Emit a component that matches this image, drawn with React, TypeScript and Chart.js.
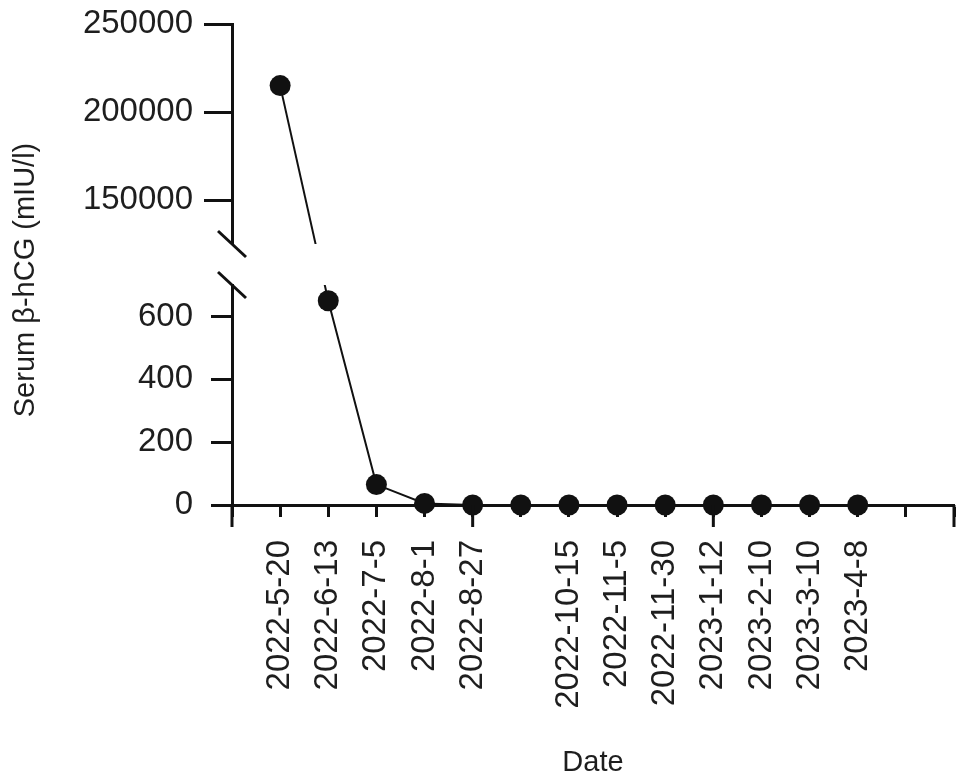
import React, { useEffect, useRef } from 'react';
import { Chart, registerables } from 'chart.js';

Chart.register(...registerables);

// ---- data ----
const dates = [
  '2022-5-20', '2022-6-13', '2022-7-5', '2022-8-1', '2022-8-27', '',
  '2022-10-15', '2022-11-5', '2022-11-30', '2023-1-12', '2023-2-10', '2023-3-10', '2023-4-8',
];
const hcgValues = [215000, 650, 65, 5, 0, 0, 0, 0, 0, 0, 0, 0, 0];
const topMin = 125000;
const topMax = 250000;
const bottomMin = 0;
const bottomMax = 700;
const topTicks = [150000, 200000, 250000];
const bottomTicks = [0, 200, 400, 600];
const yTitle = 'Serum β-hCG (mIU/l)';
const xTitle = 'Date';
const axisSlots = dates.length + 2;

const INK = '#111111';
const TEXT = '#1e1e1e';
const FAMILY = '"Liberation Sans", Arial, Helvetica, sans-serif';

const topPoints = hcgValues
  .map((v, i) => ({ x: i + 1, y: v }))
  .filter((p) => p.y > bottomMax);
const bottomPoints = hcgValues
  .map((v, i) => ({ x: i + 1, y: v }))
  .filter((p) => p.y <= bottomMax);

const noPad = (s: any) => {
  s.paddingTop = 0;
  s.paddingBottom = 0;
  s.paddingLeft = 0;
  s.paddingRight = 0;
};

const brokenAxisPlugin = {
  id: 'brokenAxis',
  beforeDatasetsDraw(chart: any) {
    const { ctx } = chart;
    const x = chart.scales.x;
    const yT = chart.scales.yTop;
    const yB = chart.scales.yBot;
    ctx.save();
    ctx.strokeStyle = INK;
    ctx.lineWidth = 2;
    for (let i = 0; i < hcgValues.length - 1; i++) {
      const a = hcgValues[i];
      const b = hcgValues[i + 1];
      const aTop = a > bottomMax;
      const bTop = b > bottomMax;
      if (aTop === bTop) continue;
      const ax = x.getPixelForValue(i + 1);
      const ay = (aTop ? yT : yB).getPixelForValue(a);
      const bx = x.getPixelForValue(i + 2);
      const by = (bTop ? yT : yB).getPixelForValue(b);
      for (const s of [yT, yB]) {
        ctx.save();
        ctx.beginPath();
        ctx.rect(x.left - 30, s.top, x.right - x.left + 60, s.bottom - s.top);
        ctx.clip();
        ctx.beginPath();
        ctx.moveTo(ax, ay);
        ctx.lineTo(bx, by);
        ctx.stroke();
        ctx.restore();
      }
    }
    ctx.restore();
  },
  afterDraw(chart: any) {
    const { ctx } = chart;
    const x = chart.scales.x;
    const yT = chart.scales.yTop;
    const yB = chart.scales.yBot;
    ctx.save();
    ctx.strokeStyle = INK;
    ctx.lineWidth = 3;
    // break marks
    for (const yy of [yT.bottom, yB.top]) {
      ctx.beginPath();
      ctx.moveTo(yT.right - 14, yy - 13);
      ctx.lineTo(yT.right + 14, yy + 13);
      ctx.stroke();
    }
    // major x ticks
    for (const t of x.ticks) {
      if (t.value % 5 === 0) {
        const px = x.getPixelForValue(t.value);
        ctx.beginPath();
        ctx.moveTo(px, x.top);
        ctx.lineTo(px, x.top + 22);
        ctx.stroke();
      }
    }
    // y title spanning both panels
    ctx.font = '29px ' + FAMILY;
    ctx.fillStyle = TEXT;
    ctx.textAlign = 'center';
    ctx.textBaseline = 'middle';
    ctx.translate(26, yB.top - 5);
    ctx.rotate(-Math.PI / 2);
    ctx.fillText(yTitle, 0, 0);
    ctx.restore();
  },
};

export default function App() {
  const ref = useRef<HTMLCanvasElement | null>(null);

  useEffect(() => {
    if (!ref.current) return;
    const tickFont = { size: 33, family: FAMILY };
    const chart = new Chart(ref.current, {
      type: 'line',
      data: {
        datasets: [
          {
            data: topPoints,
            xAxisID: 'x',
            yAxisID: 'yTop',
            borderColor: INK,
            borderWidth: 2,
            pointRadius: 10.5,
            pointBackgroundColor: INK,
            pointBorderWidth: 0,
            clip: false,
          },
          {
            data: bottomPoints,
            xAxisID: 'x',
            yAxisID: 'yBot',
            borderColor: INK,
            borderWidth: 2,
            pointRadius: 10.5,
            pointBackgroundColor: INK,
            pointBorderWidth: 0,
            clip: false,
          },
        ],
      },
      options: {
        animation: false,
        responsive: false,
        devicePixelRatio: 1,
        layout: { padding: { top: 24, right: 15, bottom: 0, left: 0 } },
        plugins: { legend: { display: false }, tooltip: { enabled: false } },
        scales: {
          x: {
            type: 'linear',
            position: 'bottom',
            min: 0,
            max: axisSlots,
            ticks: {
              stepSize: 1,
              autoSkip: false,
              maxRotation: 90,
              minRotation: 90,
              padding: 23,
              font: tickFont,
              color: TEXT,
              callback: (v: any) => dates[Number(v) - 1] ?? '',
            },
            grid: { drawOnChartArea: false, tickLength: 12, tickWidth: 3, tickColor: INK },
            border: { color: INK, width: 3 },
            title: {
              display: true,
              text: xTitle,
              font: { size: 29, family: FAMILY },
              color: TEXT,
              padding: { top: 0, bottom: 4 },
            },
            afterFit: (s: any) => {
              s.height = 279;
              noPad(s);
            },
          },
          yTop: {
            type: 'linear',
            position: 'left',
            stack: 'y',
            stackWeight: 220,
            weight: 3,
            min: topMin,
            max: topMax,
            afterBuildTicks: (s: any) => {
              s.ticks = topTicks.map((v) => ({ value: v }));
            },
            ticks: {
              padding: 11,
              font: tickFont,
              color: TEXT,
              callback: (v: any) => String(v),
            },
            grid: { drawOnChartArea: false, tickLength: 28, tickWidth: 3, tickColor: INK },
            border: { color: INK, width: 3 },
            afterFit: (s: any) => {
              s.width = 232;
              noPad(s);
            },
          },
          yGap: {
            type: 'linear',
            position: 'left',
            stack: 'y',
            stackWeight: 41,
            weight: 2,
            display: false,
            afterFit: (s: any) => {
              s.width = 232;
              noPad(s);
            },
          },
          yBot: {
            type: 'linear',
            position: 'left',
            stack: 'y',
            stackWeight: 220,
            weight: 1,
            min: bottomMin,
            max: bottomMax,
            afterBuildTicks: (s: any) => {
              s.ticks = bottomTicks.map((v) => ({ value: v }));
            },
            ticks: {
              padding: 18,
              font: tickFont,
              color: TEXT,
              callback: (v: any) => String(v),
            },
            grid: { drawOnChartArea: false, tickLength: 21, tickWidth: 3, tickColor: INK },
            border: { color: INK, width: 3 },
            afterFit: (s: any) => {
              s.width = 232;
              noPad(s);
            },
          },
        },
      } as any,
      plugins: [brokenAxisPlugin],
    });
    return () => chart.destroy();
  }, []);

  return (
    <div style={{ position: 'fixed', left: 0, top: 0, width: 969, height: 784, background: '#fff' }}>
      <canvas ref={ref} width={969} height={784} />
    </div>
  );
}
